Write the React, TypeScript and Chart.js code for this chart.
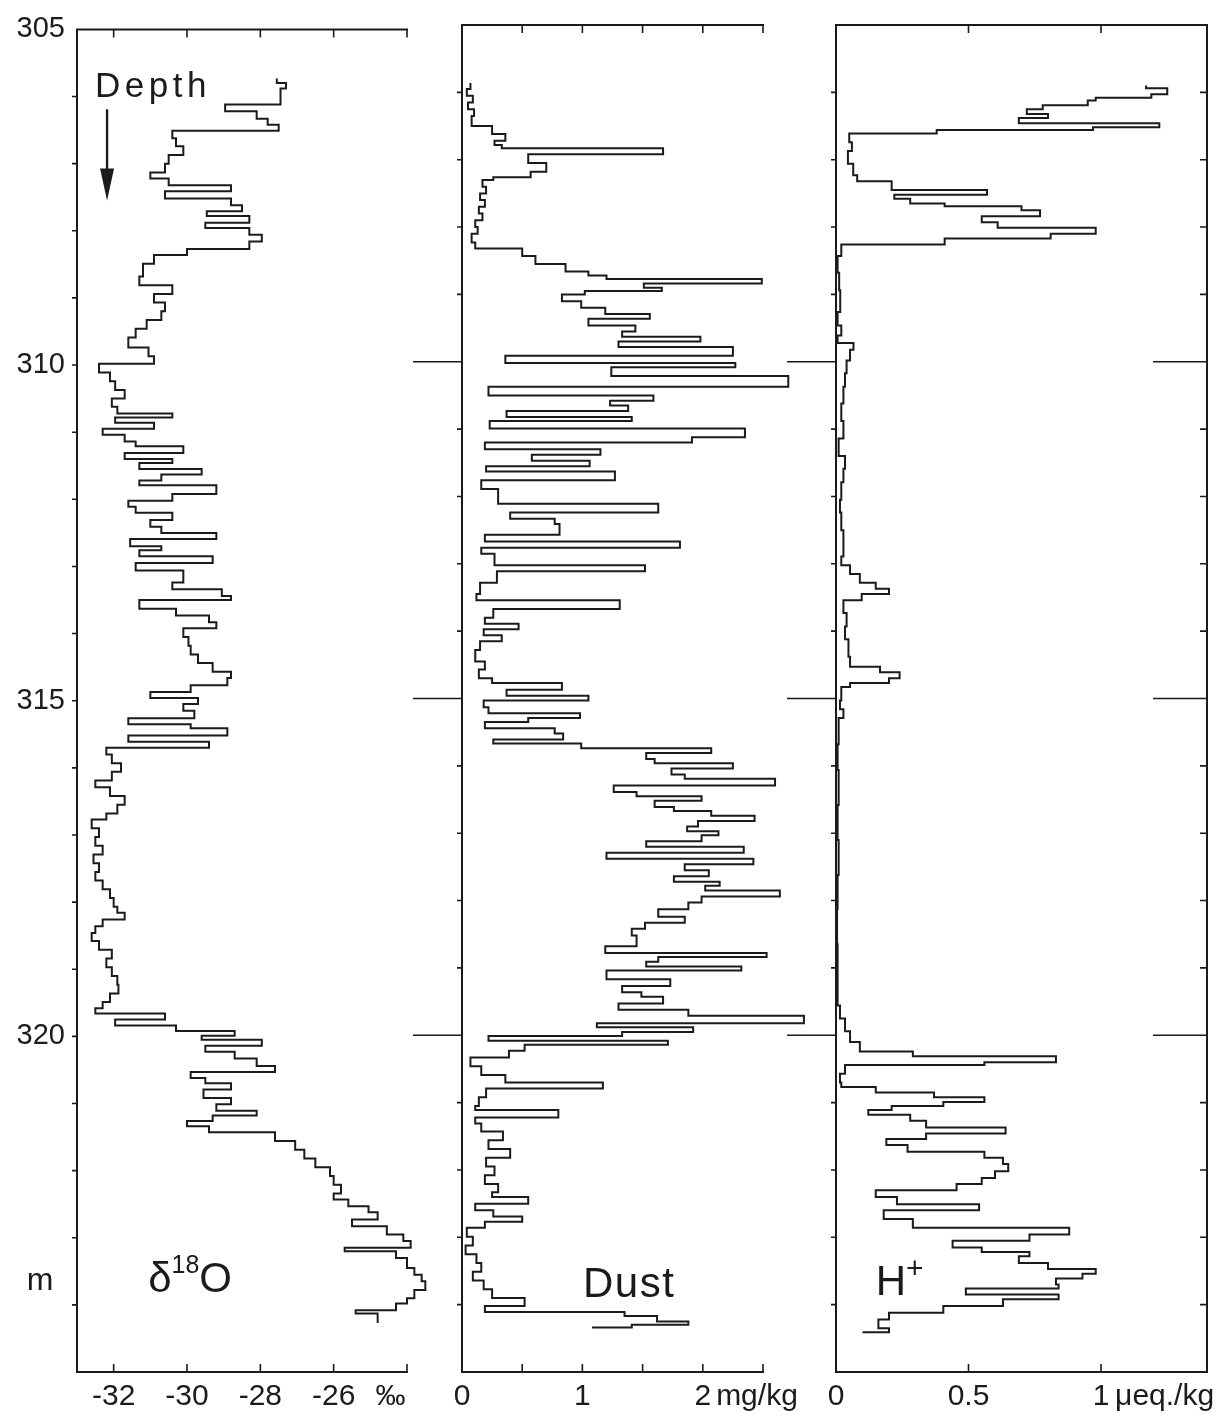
import React, { useEffect, useRef } from 'react';
import { Chart, registerables } from 'chart.js';

Chart.register(...registerables);

const INK = '#1b1b1b';
const FONT_FAMILY = '"Liberation Sans", Arial, Helvetica, sans-serif';

// ---------- depth axis ----------
const depthTop = 305;
const depthBottom = 325;
const depthLabelTicks = [305, 310, 315, 320];
const depthMajorTicks = [310, 315, 320];
const depthMinorTicks = [306, 307, 308, 309, 311, 312, 313, 314, 316, 317, 318, 319, 321, 322, 323, 324];

// ---------- δ18O (‰) : step starts (depth, m) and value over that step ----------
const o18Depth = [
  305.73, 305.8, 305.88, 306.12, 306.22, 306.33, 306.42, 306.51, 306.62, 306.74,
  306.87, 307.0, 307.13, 307.22, 307.32, 307.41, 307.52, 307.62, 307.71, 307.78,
  307.88, 307.96, 308.06, 308.16, 308.27, 308.36, 308.49, 308.68, 308.81, 308.94,
  309.07, 309.2, 309.33, 309.46, 309.59, 309.74, 309.87, 309.98, 310.11, 310.24,
  310.37, 310.5, 310.62, 310.72, 310.78, 310.86, 310.95, 311.04, 311.14, 311.21,
  311.31, 311.4, 311.46, 311.55, 311.63, 311.72, 311.79, 311.92, 312.02, 312.11,
  312.2, 312.31, 312.41, 312.5, 312.59, 312.7, 312.76, 312.85, 312.95, 313.06,
  313.24, 313.34, 313.44, 313.5, 313.63, 313.73, 313.83, 313.92, 314.05, 314.18,
  314.31, 314.44, 314.57, 314.66, 314.77, 314.87, 314.96, 315.05, 315.15, 315.26,
  315.35, 315.41, 315.52, 315.61, 315.7, 315.8, 315.93, 316.06, 316.19, 316.29,
  316.42, 316.55, 316.68, 316.77, 316.9, 317.03, 317.16, 317.29, 317.42, 317.55,
  317.68, 317.81, 317.94, 318.07, 318.16, 318.26, 318.36, 318.46, 318.58, 318.71,
  318.84, 318.97, 319.1, 319.23, 319.36, 319.49, 319.58, 319.66, 319.75, 319.84,
  319.92, 319.99, 320.05, 320.14, 320.23, 320.33, 320.44, 320.53, 320.62, 320.7,
  320.79, 320.92, 321.01, 321.11, 321.18, 321.26, 321.34, 321.43, 321.56, 321.69,
  321.82, 321.95, 322.08, 322.21, 322.34, 322.43, 322.53, 322.62, 322.73, 322.83,
  322.95, 323.05, 323.15, 323.2, 323.3, 323.45, 323.55, 323.65, 323.78, 323.9,
  323.98, 324.08, 324.13, 324.27,
];
const o18Value = [
  -27.55, -27.3, -27.45, -28.96, -28.1, -27.8, -27.5, -30.4, -30.3, -30.1,
  -30.5, -30.6, -31.0, -30.5, -28.8, -30.6, -28.8, -28.5, -29.46, -28.3,
  -29.5, -28.3, -27.96, -28.3, -30.0, -30.9, -31.2, -31.3, -30.4, -30.9,
  -30.6, -30.7, -31.1, -31.4, -31.6, -31.05, -30.9, -32.4, -32.1, -31.96,
  -31.7, -32.05, -31.9, -30.4, -31.96, -30.9, -32.3, -31.7, -31.4, -30.1,
  -31.7, -30.4, -31.3, -29.6, -30.7, -31.3, -29.2, -30.4, -31.6, -31.4,
  -30.4, -31.0, -30.7, -29.2, -31.55, -30.7, -31.3, -29.3, -31.4, -30.1,
  -30.4, -29.05, -28.8, -31.3, -30.3, -29.4, -29.2, -30.1, -29.96, -29.9,
  -29.7, -29.3, -28.8, -28.9, -29.9, -31.0, -29.7, -30.1, -29.8, -31.6,
  -29.9, -28.9, -31.6, -29.4, -32.2, -32.05, -31.8, -32.05, -32.5, -32.1,
  -31.7, -31.9, -32.2, -32.6, -32.4, -32.5, -32.3, -32.55, -32.4, -32.5,
  -32.3, -32.1, -32.0, -31.9, -31.7, -32.3, -32.5, -32.6, -32.4, -32.05,
  -32.2, -32.05, -31.9, -31.87, -32.1, -32.3, -32.5, -30.6, -31.96, -30.3,
  -28.7, -29.6, -27.96, -29.5, -28.7, -28.1, -27.6, -29.9, -29.5, -28.8,
  -29.55, -28.8, -29.2, -28.1, -29.3, -30.0, -29.4, -27.6, -27.05, -26.8,
  -26.5, -26.1, -26.0, -25.8, -26.0, -25.6, -25.05, -24.8, -25.5, -24.55,
  -24.1, -23.9, -25.7, -24.3, -24.0, -23.8, -23.6, -23.5, -23.8, -24.0,
  -24.3, -25.4, -24.8, -24.8,
];
const o18Min = -33;
const o18Max = -24;
const o18LabelTicks = [-32, -30, -28, -26, -24.45];
const o18TickLabels = ['-32', '-30', '-28', '-26', '‰'];
const o18MarkTicks = [-32, -30, -28, -26, -24];

// ---------- Dust (mg/kg) ----------
const dustDepth = [
  305.86, 305.95, 306.05, 306.15, 306.25, 306.35, 306.5, 306.62, 306.72, 306.78,
  306.83, 306.92, 307.05, 307.18, 307.26, 307.3, 307.4, 307.5, 307.6, 307.7,
  307.8, 307.9, 308.0, 308.1, 308.23, 308.32, 308.43, 308.55, 308.66, 308.72,
  308.77, 308.84, 308.9, 308.95, 309.0, 309.1, 309.2, 309.29, 309.36, 309.46,
  309.55, 309.63, 309.7, 309.78, 309.91, 310.02, 310.08, 310.21, 310.37, 310.5,
  310.58, 310.65, 310.73, 310.82, 310.88, 310.99, 311.12, 311.2, 311.3, 311.38,
  311.47, 311.55, 311.63, 311.76, 311.89, 312.11, 312.24, 312.33, 312.41, 312.57,
  312.67, 312.76, 312.85, 313.02, 313.11, 313.28, 313.45, 313.54, 313.67, 313.8,
  313.89, 313.97, 314.06, 314.15, 314.28, 314.45, 314.57, 314.7, 314.77, 314.87,
  314.96, 315.03, 315.13, 315.22, 315.29, 315.35, 315.44, 315.52, 315.61, 315.67,
  315.74, 315.81, 315.9, 315.96, 316.04, 316.13, 316.19, 316.29, 316.39, 316.45,
  316.52, 316.61, 316.67, 316.74, 316.82, 316.9, 316.97, 317.03, 317.12, 317.2,
  317.29, 317.38, 317.46, 317.55, 317.64, 317.72, 317.78, 317.85, 317.94, 318.03,
  318.13, 318.24, 318.33, 318.42, 318.52, 318.68, 318.78, 318.84, 318.91, 318.98,
  319.04, 319.17, 319.27, 319.36, 319.43, 319.53, 319.62, 319.71, 319.82, 319.88,
  319.95, 320.01, 320.08, 320.14, 320.23, 320.33, 320.46, 320.59, 320.7, 320.79,
  320.92, 321.05, 321.11, 321.22, 321.31, 321.43, 321.56, 321.69, 321.82, 321.95,
  322.08, 322.21, 322.33, 322.4, 322.5, 322.6, 322.69, 322.77, 322.86, 322.99,
  323.12, 323.25, 323.38, 323.51, 323.64, 323.77, 323.9, 324.02, 324.11, 324.17,
  324.25, 324.3, 324.34,
];
const dustValue = [
  0.07, 0.04, 0.09, 0.05, 0.1, 0.08, 0.25, 0.36, 0.27, 0.33,
  1.67, 0.55, 0.7, 0.57, 0.26, 0.17, 0.2, 0.15, 0.19, 0.14,
  0.17, 0.11, 0.13, 0.08, 0.11, 0.5, 0.61, 0.86, 1.05, 1.2,
  2.49, 1.51, 1.66, 1.02, 0.83, 0.99, 1.19, 1.56, 1.05, 1.44,
  1.33, 1.98, 1.3, 2.25, 0.36, 2.27, 1.24, 2.71, 0.22, 1.59,
  1.23, 1.38, 0.37, 1.41, 0.23, 2.35, 1.91, 0.19, 1.15, 0.58,
  1.06, 0.2, 1.27, 0.16, 0.3, 1.63, 0.4, 0.77, 0.81, 0.19,
  1.81, 0.16, 0.27, 1.52, 0.29, 0.15, 0.12, 1.31, 0.26, 0.19,
  0.47, 0.18, 0.33, 0.15, 0.11, 0.19, 0.14, 0.25, 0.83, 0.37,
  1.05, 0.18, 0.22, 0.98, 0.55, 0.19, 0.77, 0.84, 0.26, 0.99,
  2.07, 1.53, 1.6, 2.25, 1.74, 1.85, 2.6, 1.26, 1.45, 1.99,
  1.6, 1.76, 2.07, 2.43, 1.96, 1.87, 2.13, 1.99, 1.53, 2.34,
  1.2, 2.42, 1.85, 2.05, 1.76, 2.14, 2.02, 2.64, 1.99, 1.88,
  1.63, 1.85, 1.52, 1.41, 1.45, 1.19, 2.53, 1.63, 1.53, 2.32,
  1.2, 1.73, 1.33, 1.49, 1.67, 1.3, 1.88, 2.84, 1.12, 1.92,
  1.33, 0.22, 1.71, 0.52, 0.39, 0.07, 0.16, 0.36, 1.17, 0.2,
  0.14, 0.11, 0.8, 0.11, 0.16, 0.34, 0.22, 0.4, 0.2, 0.27,
  0.19, 0.3, 0.25, 0.55, 0.11, 0.26, 0.5, 0.19, 0.04, 0.09,
  0.03, 0.12, 0.16, 0.09, 0.18, 0.25, 0.52, 0.19, 1.35, 1.62,
  1.88, 1.41, 1.08,
];
const dustMin = 0;
const dustMax = 2.5;
const dustLabelTicks = [0, 1, 2, 2.45];
const dustTickLabels = ['0', '1', '2', 'mg/kg'];
const dustMarkTicks = [0.5, 1, 1.5, 2, 2.5];

// ---------- H+ (μeq./kg) ----------
const hDepth = [
  305.9, 305.94, 306.03, 306.08, 306.12, 306.19, 306.25, 306.32, 306.38, 306.46,
  306.52, 306.56, 306.61, 306.74, 306.87, 307.06, 307.23, 307.32, 307.45, 307.52,
  307.58, 307.65, 307.69, 307.75, 307.84, 307.93, 308.01, 308.1, 308.17, 308.26,
  308.43, 308.68, 308.94, 309.26, 309.46, 309.61, 309.72, 309.82, 309.98, 310.17,
  310.37, 310.62, 310.88, 311.14, 311.4, 311.59, 311.79, 312.05, 312.24, 312.5,
  312.7, 312.89, 313.02, 313.15, 313.28, 313.37, 313.45, 313.54, 313.73, 313.93,
  314.12, 314.38, 314.53, 314.61, 314.7, 314.77, 314.83, 315.03, 315.16, 315.29,
  315.68, 316.06, 316.58, 317.1, 317.62, 318.13, 318.65, 319.17, 319.56, 319.75,
  319.94, 320.1, 320.24, 320.31, 320.4, 320.44, 320.57, 320.7, 320.77, 320.85,
  320.92, 320.99, 321.05, 321.11, 321.18, 321.27, 321.37, 321.46, 321.54, 321.63,
  321.73, 321.82, 321.91, 322.02, 322.12, 322.21, 322.3, 322.4, 322.51, 322.6,
  322.73, 322.86, 322.96, 323.05, 323.15, 323.22, 323.28, 323.38, 323.47, 323.54,
  323.61, 323.7, 323.76, 323.85, 323.92, 324.02, 324.12, 324.22, 324.35, 324.41,
];
const hValue = [
  1.17, 1.25, 1.19, 0.98, 0.95, 0.78, 0.72, 0.8, 0.69, 1.22,
  0.97, 0.38, 0.05, 0.06, 0.045, 0.065, 0.08, 0.21, 0.57, 0.22,
  0.28, 0.41, 0.7, 0.77, 0.55, 0.61, 0.98, 0.81, 0.41, 0.02,
  0.006, 0.012, 0.016, 0.006, 0.02, 0.006, 0.066, 0.053, 0.04, 0.034,
  0.028, 0.02, 0.028, 0.01, 0.034, 0.028, 0.02, 0.015, 0.02, 0.028,
  0.028, 0.02, 0.053, 0.09, 0.15, 0.2, 0.097, 0.028, 0.04, 0.034,
  0.047, 0.053, 0.166, 0.24, 0.2, 0.053, 0.02, 0.015, 0.028, 0.01,
  0.006, 0.01, 0.006, 0.01, 0.006, 0.004, 0.006, 0.006, 0.015, 0.034,
  0.053, 0.09, 0.29, 0.83, 0.56, 0.034, 0.015, 0.02, 0.15, 0.37,
  0.56, 0.405, 0.21, 0.122, 0.28, 0.34, 0.64, 0.34, 0.19, 0.27,
  0.56, 0.63, 0.65, 0.6, 0.55, 0.455, 0.15, 0.23, 0.54, 0.18,
  0.29, 0.88, 0.73, 0.44, 0.55, 0.73, 0.69, 0.8, 0.98, 0.93,
  0.83, 0.84, 0.49, 0.84, 0.63, 0.405, 0.2, 0.16, 0.2, 0.1,
];
const hMin = 0;
const hMax = 1.4;
const hLabelTicks = [0, 0.5, 1, 1.24];
const hTickLabels = ['0', '0.5', '1', 'μeq./kg'];
const hMarkTicks = [0.5, 1];

// ---------- panel layout ----------
type Part = { t: string; size: number; dy?: number };
type Note = { parts: Part[]; v: number; d: number; spacing?: number; align?: 'left' | 'center' };

type Spec = {
  key: string;
  left: number;
  width: number;
  padLeft: number;
  padRight: number;
  showDepthLabels: boolean;
  xMin: number;
  xMax: number;
  labelTicks: number[];
  tickLabels: string[];
  markTicks: number[];
  rightBorder: boolean;
  longLeft: number;
  depth: number[];
  values: number[];
  notes: Note[];
  arrow?: { v: number; d0: number; d1: number };
};

const CANVAS_H = 1419;
const PAD_TOP = 25;
const X_AXIS_H = 47;
const Y_AXIS_W = 77;

const panels: Spec[] = [
  {
    key: 'o18',
    left: 0,
    width: 440,
    padLeft: 0,
    padRight: 33,
    showDepthLabels: true,
    xMin: o18Min,
    xMax: o18Max,
    labelTicks: o18LabelTicks,
    tickLabels: o18TickLabels,
    markTicks: o18MarkTicks,
    rightBorder: false,
    longLeft: 0,
    depth: o18Depth,
    values: o18Value,
    notes: [
      { parts: [{ t: 'Depth', size: 35 }], v: -32.51, d: 306.01, spacing: 4.5 },
      { parts: [{ t: 'δ', size: 42 }, { t: '18', size: 25, dy: -19 }, { t: 'O', size: 42 }], v: -31.06, d: 323.81 },
      { parts: [{ t: 'm', size: 32 }], v: -34.01, d: 323.78, align: 'center' },
    ],
    arrow: { v: -32.18, d0: 306.19, d1: 307.55 },
  },
  {
    key: 'dust',
    left: 405,
    width: 410,
    padLeft: 57,
    padRight: 52,
    showDepthLabels: false,
    xMin: dustMin,
    xMax: dustMax,
    labelTicks: dustLabelTicks,
    tickLabels: dustTickLabels,
    markTicks: dustMarkTicks,
    rightBorder: false,
    longLeft: 49,
    depth: dustDepth,
    values: dustValue,
    notes: [{ parts: [{ t: 'Dust', size: 42 }], v: 1.005, d: 323.89, spacing: 1.5 }],
  },
  {
    key: 'h',
    left: 775,
    width: 457,
    padLeft: 61,
    padRight: 25,
    showDepthLabels: false,
    xMin: hMin,
    xMax: hMax,
    labelTicks: hLabelTicks,
    tickLabels: hTickLabels,
    markTicks: hMarkTicks,
    rightBorder: true,
    longLeft: 49,
    depth: hDepth,
    values: hValue,
    notes: [{ parts: [{ t: 'H', size: 42 }, { t: '+', size: 30, dy: -17 }], v: 0.15, d: 323.86 }],
  },
];

function makeFramePlugin(spec: Spec) {
  return {
    id: 'panelFrame',
    afterDraw(chart: any) {
      const ctx: CanvasRenderingContext2D = chart.ctx;
      const xs = chart.scales.x;
      const ys = chart.scales.y;
      const X = (v: number) => xs.getPixelForValue(v);
      const Y = (d: number) => ys.getPixelForValue(d);
      const top = Y(depthTop);
      const bot = Y(depthBottom);
      const l = X(spec.xMin);
      const r = X(spec.xMax);
      ctx.save();
      ctx.strokeStyle = INK;
      ctx.lineCap = 'square';
      // frame
      ctx.lineWidth = 2;
      ctx.beginPath();
      ctx.moveTo(r, top);
      ctx.lineTo(l, top);
      ctx.lineTo(l, bot);
      ctx.lineTo(r, bot);
      if (spec.rightBorder) {
        ctx.moveTo(r, top);
        ctx.lineTo(r, bot);
      }
      ctx.stroke();
      // tick marks
      ctx.lineWidth = 1.6;
      ctx.lineCap = 'butt';
      ctx.beginPath();
      for (const v of spec.markTicks) {
        const px = X(v);
        ctx.moveTo(px, top);
        ctx.lineTo(px, top + 8);
        ctx.moveTo(px, bot);
        ctx.lineTo(px, bot - 8);
      }
      for (const d of [...depthMinorTicks, ...depthMajorTicks]) {
        const py = Y(d);
        ctx.moveTo(l, py);
        ctx.lineTo(l - 5, py);
        if (spec.rightBorder) {
          ctx.moveTo(r, py);
          ctx.lineTo(r - 7, py);
        }
      }
      if (spec.longLeft > 0) {
        for (const d of depthMajorTicks) {
          const py = Y(d);
          ctx.moveTo(l, py);
          ctx.lineTo(l - spec.longLeft, py);
          if (spec.rightBorder) {
            ctx.moveTo(r, py);
            ctx.lineTo(r - 54, py);
          }
        }
      }
      ctx.stroke();
      // arrow
      if (spec.arrow) {
        const ax = X(spec.arrow.v);
        const y0 = Y(spec.arrow.d0);
        const y1 = Y(spec.arrow.d1);
        ctx.lineWidth = 2.4;
        ctx.beginPath();
        ctx.moveTo(ax, y0);
        ctx.lineTo(ax, y1 - 20);
        ctx.stroke();
        ctx.fillStyle = INK;
        ctx.beginPath();
        ctx.moveTo(ax - 7, y1 - 32);
        ctx.lineTo(ax + 7, y1 - 32);
        ctx.lineTo(ax, y1);
        ctx.closePath();
        ctx.fill();
      }
      // notes
      ctx.fillStyle = INK;
      ctx.textBaseline = 'alphabetic';
      for (const n of spec.notes) {
        (ctx as any).letterSpacing = (n.spacing || 0) + 'px';
        let total = 0;
        for (const p of n.parts) {
          ctx.font = `${p.size}px ${FONT_FAMILY}`;
          total += ctx.measureText(p.t).width;
        }
        let cx = X(n.v) - (n.align === 'center' ? total / 2 : 0);
        const by = Y(n.d);
        for (const p of n.parts) {
          ctx.font = `${p.size}px ${FONT_FAMILY}`;
          ctx.textAlign = 'left';
          ctx.fillText(p.t, cx, by + (p.dy || 0));
          cx += ctx.measureText(p.t).width;
        }
        (ctx as any).letterSpacing = '0px';
      }
      ctx.restore();
    },
  };
}

function Panel({ spec }: { spec: Spec }) {
  const ref = useRef<HTMLCanvasElement | null>(null);
  useEffect(() => {
    if (!ref.current) return;
    const points = spec.depth.map((d, i) => ({ x: spec.values[i], y: d }));
    const chart = new Chart(ref.current, {
      type: 'scatter',
      data: {
        datasets: [
          {
            data: points,
            showLine: true,
            stepped: 'after',
            borderColor: INK,
            borderWidth: 2,
            pointRadius: 0,
            pointHoverRadius: 0,
            fill: false,
            clip: false,
          } as any,
        ],
      },
      options: {
        animation: false,
        responsive: false,
        devicePixelRatio: 1,
        events: [],
        layout: { padding: { top: PAD_TOP, bottom: 0, left: spec.padLeft, right: spec.padRight } },
        plugins: { legend: { display: false }, tooltip: { enabled: false } },
        scales: {
          x: {
            type: 'linear',
            position: 'bottom',
            min: spec.xMin,
            max: spec.xMax,
            grid: { display: false, drawTicks: false },
            border: { display: false },
            ticks: {
              autoSkip: false,
              maxRotation: 0,
              minRotation: 0,
              padding: 7,
              color: INK,
              font: { family: FONT_FAMILY, size: 30 },
              callback: (_v: any, i: number) => spec.tickLabels[i],
            },
            afterBuildTicks: (s: any) => {
              s.ticks = spec.labelTicks.map((value) => ({ value }));
            },
            afterFit: (s: any) => {
              s.height = X_AXIS_H;
            },
          },
          y: {
            type: 'linear',
            position: 'left',
            display: spec.showDepthLabels,
            reverse: true,
            min: depthTop,
            max: depthBottom,
            grid: { display: false, drawTicks: false },
            border: { display: false },
            ticks: {
              padding: 12,
              color: INK,
              font: { family: FONT_FAMILY, size: 29 },
              callback: (v: any) => String(v),
            },
            afterBuildTicks: (s: any) => {
              s.ticks = depthLabelTicks.map((value) => ({ value }));
            },
            afterFit: (s: any) => {
              s.width = spec.showDepthLabels ? Y_AXIS_W : 0;
            },
          },
        },
      } as any,
      plugins: [makeFramePlugin(spec)],
    });
    return () => chart.destroy();
  }, [spec]);
  return (
    <canvas
      ref={ref}
      width={spec.width}
      height={CANVAS_H}
      style={{ position: 'absolute', left: spec.left, top: 0, width: spec.width, height: CANVAS_H }}
    />
  );
}

export default function App() {
  return (
    <div style={{ position: 'absolute', left: 0, top: 0, width: 1232, height: CANVAS_H, background: '#ffffff' }}>
      {panels.map((p) => (
        <Panel key={p.key} spec={p} />
      ))}
    </div>
  );
}
